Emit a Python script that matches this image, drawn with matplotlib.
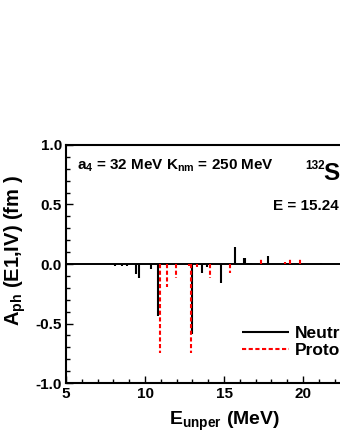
import matplotlib
matplotlib.use('Agg')
import matplotlib.pyplot as plt
from matplotlib.ticker import MultipleLocator, FormatStrFormatter

# values
neutron_E = [8.10, 8.52, 8.84, 9.44, 9.62, 10.41, 10.82, 12.95, 13.59, 13.89, 14.79,
             15.69, 16.24, 16.34, 16.50, 16.72, 17.80, 19.05, 21.16]
neutron_A = [-0.015, -0.015, -0.015, -0.088, -0.117, -0.04, -0.44, -0.585, -0.075, -0.028, -0.16,
             0.147, 0.05, 0.05, 0.01, 0.01, 0.065, 0.01, 0.01]
proton_E = [10.96, 11.38, 11.97, 12.78, 12.91, 13.31, 14.12, 15.38, 17.32, 18.86, 19.17, 19.80]
proton_A = [-0.75, -0.195, -0.12, -0.02, -0.75, -0.028, -0.117, -0.075, 0.05, 0.02, 0.05, 0.045]

plt.rcParams['font.family'] = 'Liberation Sans'
plt.rcParams['font.weight'] = 'bold'
plt.rcParams['axes.labelweight'] = 'bold'
plt.rcParams['mathtext.fontset'] = 'custom'
plt.rcParams['mathtext.rm'] = 'Liberation Sans:bold'
plt.rcParams['mathtext.it'] = 'Liberation Sans:bold'
plt.rcParams['mathtext.bf'] = 'Liberation Sans:bold'
plt.rcParams['mathtext.default'] = 'rm'


def main():
    fig = plt.figure(figsize=(3.4, 4.4), dpi=100)
    # the axes run past the right edge of the picture, as in the reference
    ax = fig.add_axes([0.194, 0.1295, 0.93, 0.541])

    ax.axhline(0, color='k', lw=1.4)
    ax.vlines(neutron_E, 0, neutron_A, colors='k', lw=1.5, label='Neutron')
    ax.vlines(proton_E, 0, proton_A, colors='r', lw=1.5, linestyles=(0, (2.0, 1.2)), label='Proton')

    ax.set_xlim(5, 25)
    ax.set_ylim(-1.0, 1.0)
    ax.xaxis.set_major_locator(MultipleLocator(5))
    ax.xaxis.set_minor_locator(MultipleLocator(1))
    ax.yaxis.set_major_locator(MultipleLocator(0.5))
    ax.yaxis.set_minor_locator(MultipleLocator(0.1))
    ax.yaxis.set_major_formatter(FormatStrFormatter('%.1f'))
    ax.tick_params(which='both', direction='in', top=False, right=False, labelsize=11, width=1.0)
    ax.tick_params(which='major', length=5, pad=3)
    ax.tick_params(which='minor', length=3)
    for lab in ax.get_xticklabels() + ax.get_yticklabels():
        lab.set_fontweight('bold')
    for s in ax.spines.values():
        s.set_linewidth(1.5)

    ax.set_xlabel(r'E$_{unper}$ (MeV)', size=14, labelpad=6)
    ax.set_ylabel(r'A$_{ph}$ (E1,IV) (fm )', size=14.5)
    ax.yaxis.set_label_coords(-0.12, 0.555)

    ax.text(0.034, 0.895, r'a$_4$ = 32 MeV K$_{nm}$ = 250 MeV', transform=ax.transAxes, size=11)
    ax.text(0.757, 0.901, '132', transform=ax.transAxes, size=8.5, va='baseline')
    ax.text(0.813, 0.853, 'Sn', transform=ax.transAxes, size=17.5, va='baseline')
    ax.text(0.655, 0.725, 'E = 15.24 MeV', transform=ax.transAxes, size=11)

    ax.legend(loc='lower left', bbox_to_anchor=(0.535, 0.075), frameon=False,
              prop={'size': 12.5, 'weight': 'bold'}, handlelength=2.7, handletextpad=0.35,
              labelspacing=0.1, borderaxespad=0)

    fig.savefig('out.png', dpi=100)


if __name__ == '__main__':
    main()
